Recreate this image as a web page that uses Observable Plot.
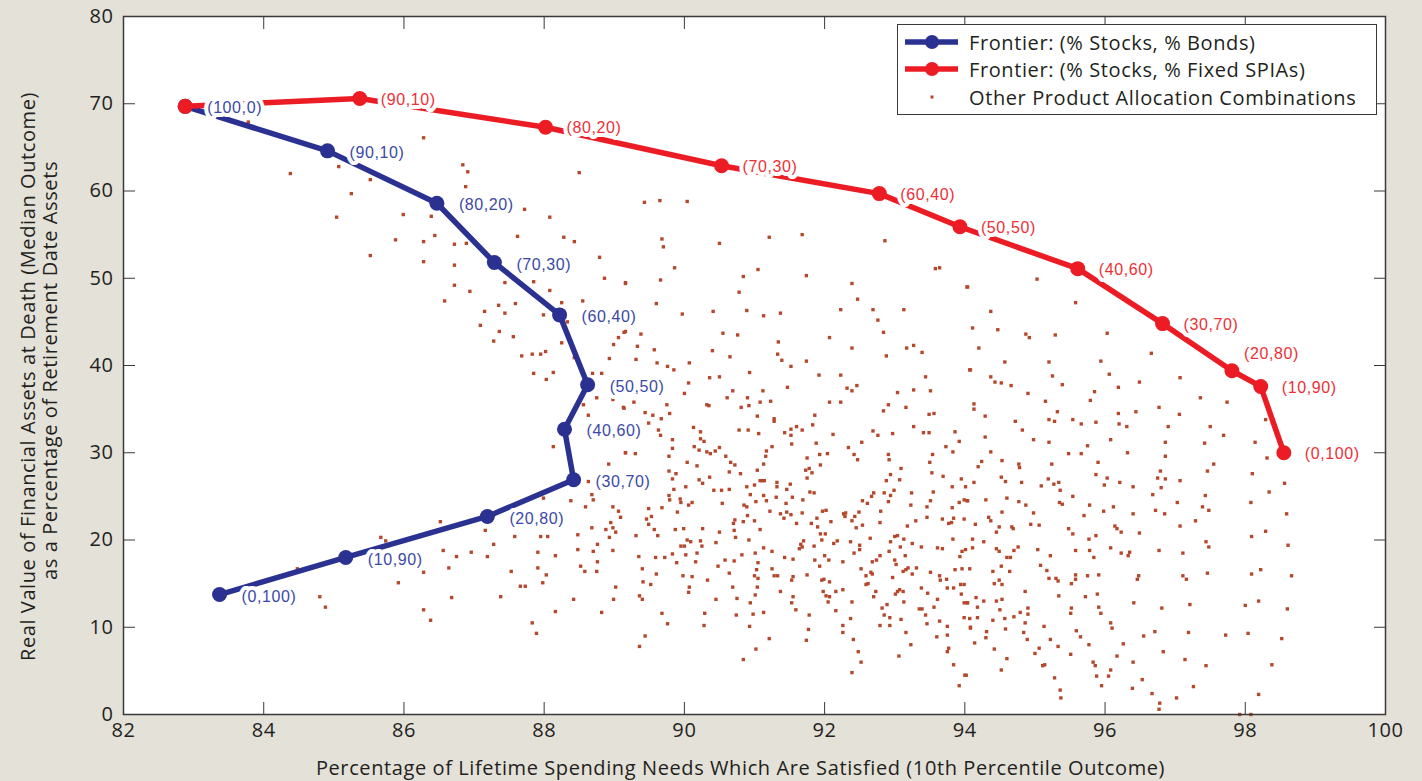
<!DOCTYPE html>
<html><head><meta charset="utf-8">
<script src="https://cdn.jsdelivr.net/npm/d3@7"></script>
<script src="https://cdn.jsdelivr.net/npm/@observablehq/plot@0.6"></script>
<style>
html,body{margin:0;padding:0;background:#e4e1d8;}
#wrap{position:relative;width:1422px;height:781px;overflow:hidden;}
#legend{position:absolute;left:897px;top:24px;width:480px;height:91px;box-sizing:border-box;border:1.5px solid #3a3a3a;background:#fff;font-family:"Open Sans",sans-serif;font-size:20px;letter-spacing:0.6px;color:#231f20;}
.row{position:absolute;left:7px;height:26px;display:flex;align-items:center;white-space:nowrap;}
.row svg{margin-right:11px;}
</style></head>
<body><div id="wrap"><div id="chart"></div>
<div id="legend">
<div class="row" style="top:4px"><svg width="53" height="18"><line x1="0" y1="9" x2="53" y2="9" stroke="#2b3190" stroke-width="5.5"/><circle cx="27" cy="9" r="7" fill="#2b3190"/></svg><span>Frontier: (% Stocks, % Bonds)</span></div>
<div class="row" style="top:31px"><svg width="53" height="18"><line x1="0" y1="9" x2="53" y2="9" stroke="#ec1c24" stroke-width="5.5"/><circle cx="27" cy="9" r="7" fill="#ec1c24"/></svg><span>Frontier: (% Stocks, % Fixed SPIAs)</span></div>
<div class="row" style="top:59px"><svg width="53" height="18"><rect x="25.5" y="7.5" width="3" height="3" fill="#b5472b"/></svg><span>Other Product Allocation Combinations</span></div>
</div></div>
<script>
const xTicks = [82, 84, 86, 88, 90, 92, 94, 96, 98, 100];
const yTicks = [0, 10, 20, 30, 40, 50, 60, 70, 80];
const allocLabels = ["(100,0)","(90,10)","(80,20)","(70,30)","(60,40)","(50,50)","(40,60)","(30,70)","(20,80)","(10,90)","(0,100)"];
const bondsX = [82.88, 84.91, 86.47, 87.29, 88.22, 88.62, 88.29, 88.42, 87.19, 85.17, 83.37];
const bondsY = [69.7, 64.6, 58.6, 51.8, 45.8, 37.8, 32.7, 26.9, 22.7, 18.0, 13.75];
const spiaX = [82.88, 85.37, 88.02, 90.53, 92.78, 93.93, 95.61, 96.82, 97.81, 98.22, 98.55];
const spiaY = [69.7, 70.6, 67.3, 62.9, 59.7, 55.9, 51.1, 44.8, 39.4, 37.6, 30.0];
const xTitle = "Percentage of Lifetime Spending Needs Which Are Satisfied (10th Percentile Outcome)";
const yTitle1 = "Real Value of Financial Assets at Death (Median Outcome)";
const yTitle2 = "as a Percentage of Retirement Date Assets";
const otherPts = [
[83.78,67.9],[84.38,62.0],[85.07,62.8],[85.52,61.3],[85.25,59.7],[85.04,57.0],[86.28,66.1],[86.84,63.0],[86.91,62.2],[86.88,60.5],[88.50,62.1],[85.99,57.3],[86.39,57.1],[87.72,57.9],[88.08,57.0],[85.88,54.4],[86.28,54.2],[86.44,54.9],[86.72,53.9],[86.89,54.0],[87.62,54.8],[88.28,54.7],[88.43,54.2],[85.52,52.6],[86.28,51.9],[86.72,51.5],[88.79,52.4],[88.86,50.0],[89.16,49.4],[86.72,49.2],[86.94,48.5],[86.58,47.4],[87.44,49.5],[87.85,49.6],[88.08,48.6],[88.25,47.2],[88.55,47.4],[87.15,46.2],[87.35,46.9],[87.59,47.1],[87.44,46.0],[87.99,45.8],[87.09,44.6],[87.36,43.9],[87.56,43.3],[87.28,42.8],[88.33,45.0],[88.25,42.6],[89.06,43.2],[88.99,42.4],[89.16,43.9],[87.68,41.1],[87.83,41.3],[87.95,41.3],[88.02,41.6],[88.43,40.9],[88.93,40.8],[87.85,39.1],[88.13,39.2],[88.03,38.4],[88.69,39.1],[88.82,39.1],[88.75,36.3],[88.98,36.1],[88.56,35.5],[89.13,35.2],
[88.63,34.3],[88.13,30.7],[89.16,30.0],[88.92,28.7],[88.63,26.7],[88.68,25.2],[88.70,24.6],[88.38,24.5],[87.99,24.8],[88.59,23.8],[88.98,23.8],[89.06,23.3],[89.09,22.6],[88.95,22.0],[88.98,21.4],[88.88,21.2],[89.02,20.9],[88.93,20.3],[88.68,21.4],[88.48,20.6],[88.76,19.5],[88.70,18.7],[88.48,18.9],[88.98,18.8],[88.76,17.5],[88.52,17.0],[88.58,16.4],[88.75,16.4],[89.02,14.6],[88.99,13.2],[88.82,11.7],[88.42,13.2],[88.16,11.8],[87.83,10.5],[87.89,9.3],[87.38,13.5],[87.66,14.7],[87.73,14.7],[87.98,15.1],[87.91,16.8],[88.03,16.0],[87.53,16.4],[87.91,18.6],[88.16,18.2],[87.95,20.4],[88.05,20.4],[87.58,20.4],[87.28,19.5],[87.16,21.1],[87.19,18.1],[86.96,18.6],[86.75,18.1],[86.56,18.8],[86.64,16.8],[86.68,13.4],[86.28,16.3],[85.92,15.1],[86.28,12.0],[86.38,10.8],[86.52,22.1],[85.67,20.3],[85.74,19.9],[84.48,16.7],[84.80,13.5],[84.88,12.3],
[89.43,58.7],[89.65,58.9],[90.04,58.8],[89.68,54.5],[89.70,53.6],[90.50,54.0],[91.21,54.7],[91.68,55.0],[92.86,54.3],[89.86,51.2],[89.66,49.8],[89.16,49.5],[89.60,47.1],[89.97,45.9],[90.41,46.2],[90.84,50.2],[91.05,51.0],[90.78,48.4],[90.89,46.3],[91.13,45.7],[91.37,46.0],[91.74,50.3],[92.39,49.4],[92.47,47.6],[92.23,46.4],[92.69,46.4],[92.76,45.2],[93.13,46.4],[93.58,51.1],[93.64,51.2],[94.04,49.0],[92.84,43.8],[92.07,43.2],[92.39,42.0],[92.88,41.1],[93.17,42.0],[93.27,42.3],[93.39,41.5],[94.07,39.5],[93.44,38.7],[93.27,37.2],[93.51,37.1],[93.04,36.9],[93.16,35.2],[93.49,34.4],[93.56,34.5],[92.84,34.8],[92.91,35.5],[92.46,37.7],[92.32,37.4],[92.39,37.1],[92.23,38.9],[91.92,38.9],[92.23,35.8],[92.07,35.8],[91.47,37.5],[91.74,40.5],[91.52,39.9],[91.39,40.6],[91.33,41.3],[91.34,42.7],[90.93,39.2],[91.12,37.1],[91.23,35.9],[91.08,35.8],[91.04,34.2],[90.90,36.3],[90.92,35.4],[90.81,35.2],[90.69,37.1],[90.61,36.3],[90.50,38.7],[90.36,38.6],[90.65,41.0],[90.40,41.7],[90.55,43.7],[90.76,43.5],[90.35,35.4],[90.32,35.5],[90.07,40.3],[90.06,38.0],[90.00,36.8],[89.85,39.5],[89.76,39.9],[89.61,40.3],[89.31,40.7],[89.57,41.8],[89.33,42.2],[89.38,43.6],[89.14,43.8],[89.75,35.5],[89.79,34.5],[89.55,34.3],[89.44,34.6],[89.28,35.8],[89.14,35.1],[89.67,33.9],[91.86,34.3],[91.28,33.9],
[89.49,33.4],[89.66,32.0],[89.63,32.6],[89.83,31.5],[90.13,32.9],[90.23,32.4],[90.23,31.6],[90.28,31.3],[90.78,32.6],[90.91,32.6],[91.06,32.2],[91.28,33.6],[91.43,32.3],[91.52,32.7],[91.60,33.0],[91.68,32.6],[91.52,32.0],[91.83,33.2],[91.53,31.0],[92.12,32.1],[92.69,32.5],[92.76,32.0],[92.97,32.2],[93.27,33.0],[93.41,32.3],[93.49,32.3],[93.86,32.4],[93.92,31.3],[93.73,30.7],[93.83,30.1],[92.53,31.2],[92.34,30.6],[91.88,31.1],[91.93,29.8],[92.04,29.9],[91.75,29.4],[92.42,29.8],[92.47,29.2],[92.91,29.8],[92.92,29.2],[93.54,29.8],[93.50,28.9],[93.53,27.7],[93.69,27.3],[93.95,27.0],[89.83,30.5],[89.78,29.6],[89.16,30.0],[89.30,29.9],[89.78,27.9],[89.88,27.6],[89.83,27.0],[90.14,30.7],[90.21,30.3],[90.18,28.5],[90.04,28.9],[90.32,30.1],[90.37,29.9],[90.44,30.2],[90.50,30.6],[90.59,29.6],[90.66,28.9],[90.72,28.6],[90.64,27.8],[90.80,27.6],[91.04,28.0],[91.13,28.7],[91.16,29.6],[91.17,30.2],[91.25,30.7],[90.36,27.2],[90.21,26.9],[90.26,26.5],[90.02,26.1],[89.85,25.8],[89.78,25.1],[89.79,24.6],[89.94,24.7],[89.95,24.3],[90.06,24.0],[90.11,24.3],[89.49,23.6],[89.68,23.7],[89.90,23.2],[89.53,22.7],[89.46,22.4],[89.49,21.8],[89.57,21.2],[89.62,20.5],[89.31,20.5],[90.42,25.7],[90.53,25.7],[90.64,25.8],[90.54,24.2],[90.89,26.1],[91.00,26.3],[91.08,26.8],[91.11,26.8],[91.14,26.8],[91.32,26.6],[91.32,26.1],[91.51,26.4],[91.46,25.8],[91.54,24.9],[91.45,24.2],[91.31,24.9],[91.13,25.1],[91.17,24.5],[91.02,24.4],[90.94,25.2],[90.85,24.0],[90.89,23.8],[90.90,22.8],[90.84,22.1],[90.72,22.3],[90.70,21.9],[91.00,22.2],[91.08,21.2],[91.22,23.3],[91.37,23.0],[91.42,22.5],[91.46,23.2],[91.52,22.9],[91.69,24.6],[91.68,23.1],[91.73,28.0],[91.78,28.2],[91.82,27.7],[91.75,27.1],[91.94,28.6],[91.79,25.5],[91.85,25.4],[91.97,23.3],[92.02,23.4],[91.89,22.5],[92.09,22.1],[91.81,21.9],[91.60,21.9],[91.90,21.5],[91.94,20.7],[92.01,20.7],[91.96,20.0],[91.85,19.3],[91.70,19.9],[91.66,19.5],[91.68,19.2],[91.64,19.0],[91.55,17.8],[91.43,18.0],[91.25,18.7],[91.13,19.1],[90.92,20.0],[90.73,20.3],[90.71,21.1],[90.50,20.9],[90.45,19.7],[90.23,19.9],[90.26,21.3],[90.25,19.3],[90.09,19.8],[90.04,20.0],[89.95,19.3],[90.00,19.3],[89.87,21.2],[89.99,21.3],[89.83,18.4],[89.72,18.0],[89.59,18.0],[89.35,18.1],[89.40,16.7],[89.60,16.1],[89.52,14.9],[89.41,15.2],[89.36,13.6],[89.40,13.2],[89.68,11.6],[89.76,10.4],[89.44,9.0],[89.36,7.8],[89.89,17.4],[90.02,18.3],[90.18,18.5],[90.16,17.5],[89.98,15.9],[90.11,15.8],[90.07,14.6],[90.06,14.0],[90.33,15.4],[90.48,17.0],[90.58,17.7],[90.71,17.6],[90.64,16.2],[90.82,18.3],[91.01,18.5],[91.05,17.4],[91.03,16.6],[91.00,15.9],[91.05,15.6],[91.04,14.6],[91.01,13.7],[90.69,14.6],[90.75,13.3],[90.45,13.2],[90.29,11.6],[90.28,10.2],[90.74,11.4],[90.93,10.1],[90.98,11.5],[91.13,11.7],[90.94,12.8],[91.25,16.7],[91.28,15.9],[91.33,15.9],[91.37,14.1],[91.55,15.8],[91.53,15.4],[91.55,13.5],[91.53,12.8],[91.59,12.0],[91.21,8.7],[91.02,7.5],[90.84,6.3],[91.75,16.0],[91.86,17.7],[91.93,17.0],[92.00,18.2],[92.06,17.7],[92.26,17.5],[91.99,15.5],[91.96,15.4],[92.07,15.2],[91.98,14.1],[92.02,13.6],[92.07,13.5],[92.05,12.9],[92.16,14.1],[92.26,14.3],[91.78,11.4],[91.77,9.75],[91.74,8.5],[92.16,11.9],[92.39,12.9],[92.37,11.0],[92.26,10.2],[92.26,9.4],[92.41,8.6],[92.48,7.2],[92.52,6.0],[92.39,4.8],[92.13,19.6],[92.18,19.9],[92.37,19.8],[92.42,18.5],[92.50,19.4],[92.50,18.9],[92.65,20.2],[92.45,21.4],[92.39,22.2],[92.43,22.7],[92.29,22.7],[92.27,23.0],[92.30,23.1],[92.49,23.2],[92.54,21.7],[92.54,24.5],[92.61,24.2],[92.70,25.4],[92.67,25.0],[92.85,25.4],[92.91,24.4],[92.80,23.3],[92.79,22.0],[92.99,25.7],[92.94,25.1],[92.88,26.8],[92.94,27.5],[93.09,28.2],[93.07,26.9],[93.24,25.4],[93.23,24.0],[93.30,22.2],[93.46,22.6],[93.51,24.5],[93.46,23.8],[93.55,25.5],[93.18,21.6],[93.04,20.5],[93.00,20.4],[92.94,19.8],[93.13,20.1],[93.25,19.6],[93.08,19.2],[92.92,18.7],[93.15,18.2],[92.79,18.2],[92.74,17.7],[92.68,17.5],[92.66,16.3],[92.68,16.1],[92.59,15.9],[92.52,16.7],[92.62,15.0],[92.59,14.9],[92.73,14.1],[92.70,13.5],[92.97,15.7],[93.00,17.7],[93.02,17.2],[93.16,16.6],[93.12,16.4],[93.19,16.8],[93.31,16.8],[93.25,16.1],[93.38,19.2],[93.61,19.1],[93.68,19.0],[93.51,16.3],[93.64,15.9],[93.74,15.5],[93.65,15.4],[93.75,14.5],[93.84,14.5],[93.94,14.9],[93.99,14.9],[93.86,16.6],[93.96,16.7],[93.93,18.1],[93.96,18.7],[94.01,18.9],[93.83,20.1],[93.68,22.4],[93.77,21.9],[93.81,22.0],[93.84,22.5],[93.99,22.4],[93.92,24.3],[93.82,23.7],[93.99,24.6],[94.04,24.5],[93.82,26.1],[94.01,26.1],[93.04,14.1],[93.07,14.3],[93.12,14.1],[93.01,13.8],[93.13,12.9],[92.89,12.6],[92.82,12.2],[92.85,11.4],[92.93,11.1],[92.93,10.2],[92.79,10.2],[93.09,10.9],[93.16,9.4],[93.23,8.0],[93.06,6.7],[93.35,12.1],[93.39,12.1],[93.56,12.3],[93.61,13.2],[93.47,13.9],[93.38,14.5],[93.44,11.4],[93.46,10.4],[93.64,10.7],[93.75,10.1],[93.60,8.9],[93.75,9.1],[93.77,7.6],[93.75,7.2],[93.84,5.7],[94.00,4.5],[93.92,3.3],[93.99,12.8],[94.04,12.8],[93.99,11.1],[94.08,10.0],[93.95,13.8],
[95.03,49.9],[94.03,49.0],[95.58,47.2],[94.37,46.2],[94.11,44.3],[94.47,44.1],[94.87,43.6],[94.92,43.2],[95.29,43.5],[96.03,43.7],[94.20,42.0],[94.57,40.4],[95.20,40.4],[95.94,40.5],[96.66,41.4],[94.08,39.5],[94.37,38.7],[94.43,38.1],[94.52,38.0],[94.66,37.7],[95.25,38.8],[95.39,37.8],[96.06,39.0],[96.19,37.5],[96.49,38.1],[97.07,38.6],[94.90,36.8],[95.15,35.9],[95.85,37.0],[95.79,36.0],[94.13,35.6],[94.13,35.0],[94.29,34.2],[94.72,33.6],[95.20,33.8],[95.28,33.6],[95.32,34.7],[95.54,33.8],[95.66,33.3],[95.87,33.5],[96.19,34.5],[96.20,33.3],[96.31,33.0],[96.44,34.7],[96.77,35.2],[97.06,34.4],[97.36,36.3],[97.74,35.8],[96.90,33.0],[97.50,33.0],[97.69,32.0],[98.29,33.8],[94.82,32.6],[94.29,31.8],[94.98,31.5],[95.20,31.2],[95.75,30.8],[96.08,31.5],[96.86,31.2],[97.42,31.1],[98.14,31.2],
[94.37,30.1],[94.24,29.0],[94.19,28.4],[94.53,29.1],[94.77,28.7],[94.78,28.3],[95.24,28.7],[95.48,29.9],[95.66,29.9],[95.90,28.9],[96.32,30.0],[96.86,29.6],[97.46,27.9],[97.55,28.7],[98.31,29.4],[98.10,27.6],[98.56,26.5],[98.34,25.5],[98.08,24.3],[98.59,23.0],[98.29,21.0],[98.09,20.4],[98.61,19.4],[98.22,16.6],[98.09,16.1],[98.66,15.9],[98.19,13.0],[98.00,12.5],[98.60,12.1],[98.04,9.3],[98.52,8.7],[98.38,5.7],[98.19,2.3],[97.92,0.0],[98.08,0.0],[97.72,9.1],[97.44,5.6],[97.26,3.2],[97.02,1.9],[96.78,1.3],[96.77,0.6],[96.67,2.4],[96.53,4.0],[96.39,3.0],[96.40,6.0],[96.17,6.7],[96.26,8.1],[96.08,5.1],[96.05,4.4],[95.95,3.3],[95.88,4.4],[95.86,5.6],[95.83,6.0],[95.77,8.0],[95.65,8.9],[95.59,9.6],[95.51,6.9],[95.37,1.9],[95.36,2.8],[95.28,4.2],[95.33,7.8],[95.14,5.7],[95.11,5.6],[95.00,7.0],[95.06,7.6],[95.22,8.6],[95.13,10.1],[94.89,8.6],[94.84,9.4],[94.86,10.5],[94.79,11.7],[94.90,11.5],[94.90,12.2],[94.70,11.2],[94.57,11.0],[94.58,9.8],[94.31,9.5],[94.30,8.8],[94.14,8.2],[94.42,7.5],[94.60,6.4],[94.52,5.1],[94.02,4.5],[94.08,9.9],[94.07,11.0],[94.18,11.1],[94.40,10.8],[94.18,12.3],[94.16,13.4],[94.03,12.8],[94.27,13.0],[94.45,13.0],[94.53,13.2],[94.50,12.0],[94.86,14.1],[95.34,13.6],[95.72,13.5],[95.89,13.8],[95.91,12.3],[95.94,11.6],[95.52,12.2],[95.51,11.6],[96.08,10.5],[96.10,9.9],[96.55,9.0],[96.71,9.5],[96.83,7.2],[97.14,6.3],[97.19,9.4],[97.21,12.6],[96.81,12.2],[96.41,12.8],[94.07,16.7],[94.40,16.4],[94.42,15.0],[94.49,15.4],[94.53,14.9],[94.52,17.0],[94.64,16.4],[94.60,18.0],[94.65,18.0],[94.70,18.8],[94.76,19.2],[94.45,19.0],[94.49,18.7],[94.11,19.1],[94.27,19.8],[94.11,20.1],[94.15,21.8],[94.45,20.9],[94.49,21.5],[94.37,22.2],[94.34,22.6],[94.53,23.2],[94.67,21.5],[94.69,21.3],[94.94,21.8],[95.06,21.7],[94.98,23.1],[94.87,24.0],[94.77,24.4],[94.60,24.8],[94.30,24.6],[94.03,24.5],[94.13,26.6],[94.52,27.2],[94.58,26.7],[94.81,26.6],[95.09,26.2],[95.19,27.0],[95.27,26.4],[95.34,26.6],[95.36,25.7],[95.35,24.3],[95.39,24.1],[95.54,25.0],[95.78,24.0],[95.70,22.8],[95.87,27.5],[96.03,27.1],[95.99,26.3],[96.21,26.6],[96.40,26.1],[96.12,23.8],[95.98,23.3],[96.40,23.0],[95.48,21.3],[95.54,20.7],[95.77,20.1],[95.87,20.5],[96.14,21.6],[96.17,21.3],[96.23,20.9],[96.49,20.8],[95.04,18.9],[95.22,18.2],[95.58,18.8],[95.78,18.8],[95.84,18.0],[96.08,19.1],[96.23,18.5],[96.35,18.6],[96.33,18.2],[96.77,18.8],[96.72,23.4],[96.85,23.0],[96.68,25.2],[96.80,26.0],[96.75,27.1],[96.86,27.0],[96.79,27.9],[97.07,26.8],[97.03,24.3],[97.07,21.6],[97.29,22.2],[97.39,23.8],[97.48,23.4],[97.43,25.1],[97.44,19.8],[97.48,19.2],[97.11,18.5],[95.08,17.1],[95.17,16.5],[95.20,15.6],[95.30,15.6],[95.33,15.3],[95.58,16.0],[95.58,15.5],[95.52,15.0],[95.75,15.9],[95.91,16.0],[96.46,15.5],[96.48,15.9],[97.11,15.9],[97.16,15.5],[97.46,16.2]
];

const bonds = allocLabels.map((label, i) => ({label, x: bondsX[i], y: bondsY[i]}));
const spia = allocLabels.map((label, i) => ({label, x: spiaX[i], y: spiaY[i]}));
const BLUE = "#2b3190", RED = "#ec1c24", DOT = "#b5472b";
const labelFont = "Liberation Sans";

const chart = Plot.plot({
  width: 1422, height: 781,
  marginLeft: 123, marginRight: 37, marginTop: 16, marginBottom: 67,
  style: {background: "transparent", fontFamily: "Open Sans", color: "#231f20", overflow: "visible", letterSpacing: "0.6px"},
  x: {domain: [82, 100]},
  y: {domain: [0, 80]},
  marks: [
    Plot.frame({fill: "white", stroke: null}),
    Plot.dot(otherPts, {x: d => d[0], y: d => d[1], symbol: "square", r: 1.9, fill: DOT, stroke: null}),
    Plot.line(bonds, {x: "x", y: "y", stroke: BLUE, strokeWidth: 5.5}),
    Plot.dot(bonds, {x: "x", y: "y", r: 7.5, fill: BLUE}),
    Plot.line(spia, {x: "x", y: "y", stroke: RED, strokeWidth: 5.5}),
    Plot.dot(spia, {x: "x", y: "y", r: 7.5, fill: RED}),
    Plot.text(bonds, {x: "x", y: "y", text: "label", textAnchor: "start", dx: 22, dy: 2, fill: "#3b49a6", stroke: "white", strokeWidth: 8, fontSize: 16, fontFamily: labelFont}),
    Plot.text(spia.filter((d, i) => i > 0 && i !== 8), {x: "x", y: "y", text: "label", textAnchor: "start", dx: 21, dy: 1, fill: "#ee2f36", stroke: "white", strokeWidth: 8, fontSize: 16, fontFamily: labelFont}),
    Plot.text(spia.filter((d, i) => i === 8), {x: "x", y: "y", text: "label", textAnchor: "start", dx: 12, dy: -17, fill: "#ee2f36", stroke: "white", strokeWidth: 8, fontSize: 16, fontFamily: labelFont}),
    Plot.axisX(xTicks, {anchor: "bottom", tickSize: -12, fill: "none", label: null, stroke: "#3a3a3a"}),
    Plot.axisX(xTicks, {anchor: "top", tickSize: -12, fill: "none", label: null, stroke: "#3a3a3a"}),
    Plot.axisY(yTicks, {anchor: "left", tickSize: -12, fill: "none", label: null, stroke: "#3a3a3a"}),
    Plot.axisY(yTicks, {anchor: "right", tickSize: -12, fill: "none", label: null, stroke: "#3a3a3a"}),
    Plot.axisX(xTicks, {anchor: "bottom", tickSize: 0, tickPadding: 8, fontSize: 20, label: null, fill: "#231f20"}),
    Plot.axisY(yTicks, {anchor: "left", tickSize: 0, tickPadding: 10, fontSize: 20, label: null, fill: "#231f20"}),
    Plot.frame({stroke: "#3a3a3a", strokeWidth: 1.5}),
    Plot.text([xTitle], {frameAnchor: "bottom", lineAnchor: "middle", dx: -14, dy: 54, fontSize: 20, fill: "#231f20"}),
    Plot.text([yTitle1], {frameAnchor: "left", textAnchor: "middle", lineAnchor: "middle", rotate: -90, dx: -95, dy: 11, fontSize: 20, fill: "#231f20"}),
    Plot.text([yTitle2], {frameAnchor: "left", textAnchor: "middle", lineAnchor: "middle", rotate: -90, dx: -73, dy: 5, fontSize: 20, fill: "#231f20"})
  ]
});
document.getElementById("chart").appendChild(chart);
</script>
</body></html>
